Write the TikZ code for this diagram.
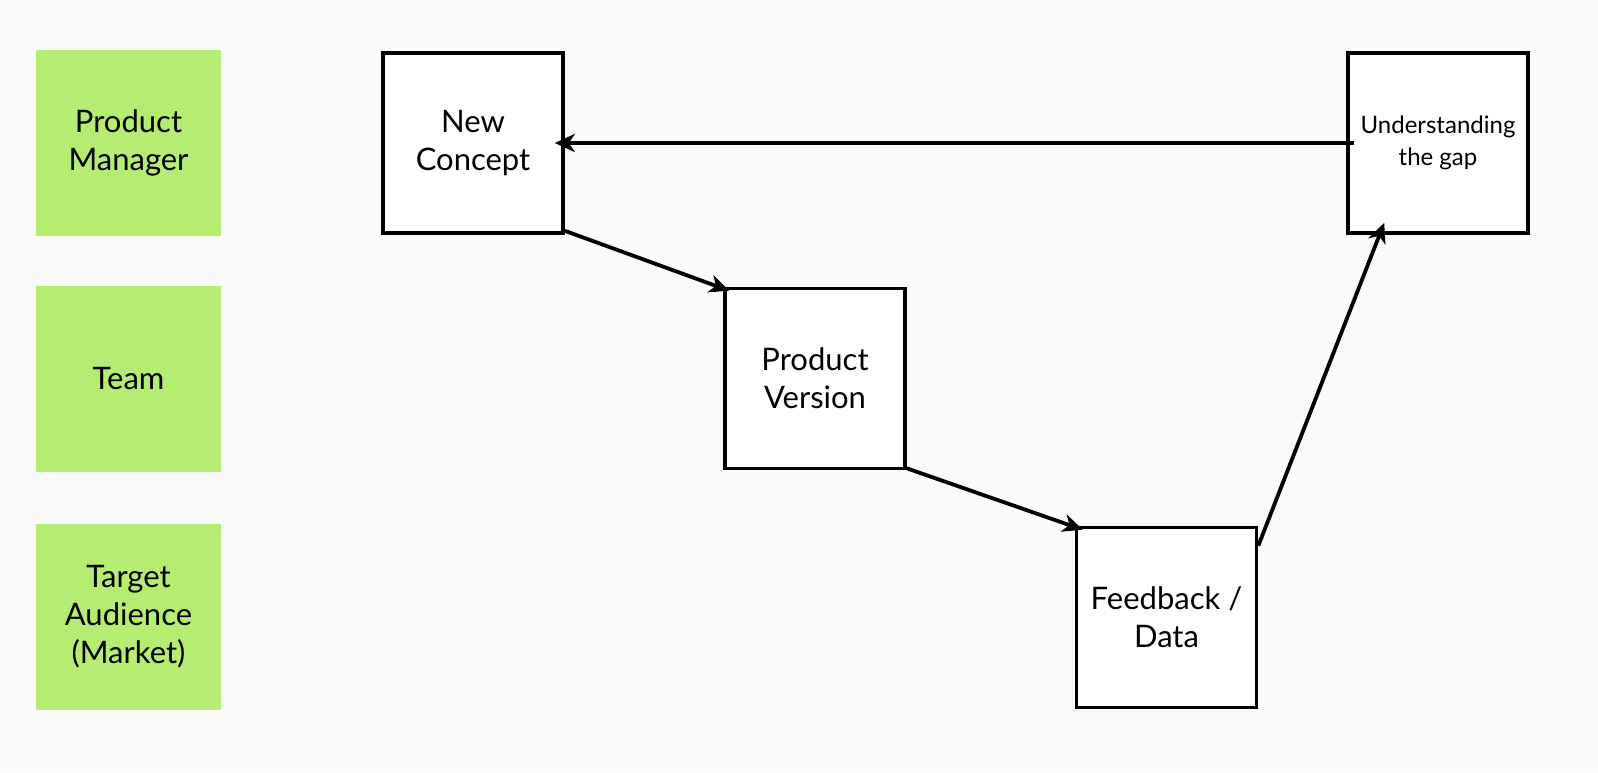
\documentclass[tikz,border=0pt]{standalone}
\usepackage{fontspec}
\setmainfont{Lato}
\usetikzlibrary{arrows.meta}
\definecolor{bggray}{HTML}{FAFAFA}
\definecolor{lanegreen}{HTML}{B5EC72}
\begin{document}
\begin{tikzpicture}[
    x=0.5pt, y=-0.5pt,
    lane/.style={fill=lanegreen,minimum width=92.5pt,minimum height=93pt,
      align=center,font=\fontsize{15.5}{19}\selectfont},
    box/.style={draw=black,line width=1.8pt,fill=white,minimum width=90pt,
      minimum height=90pt,align=center,font=\fontsize{15.5}{19}\selectfont},
    flow/.style={line width=1.9pt,-{Stealth[length=10pt,width=9pt,inset=3pt]}}]
 \fill[bggray] (0,0) rectangle (1598,772);
 \useasboundingbox (0,0) rectangle (1598,772);
 \node [lane] (pm) at (128.5,143) {Product\\Manager};
 \node [lane] (team) at (128.5,379) {Team};
 \node [lane] (market) at (128.5,617) {Target\\Audience\\(Market)};
 \node [box] (concept) at (473,143) {New\\Concept};
 \node [box] (version) at (815,378.5) {Product\\Version};
 \node [box] (feedback) at (1166.5,617.5) {Feedback /\\Data};
 \node [box,font=\fontsize{12}{16}\selectfont] (gap) at (1438,143)
   {Understanding\\the gap};
 \draw [flow] ([yshift=2pt]concept.south east) -- ([shift={(3pt,-2pt)}]version.north west);
 \draw [flow] ([yshift=1pt]version.south east) -- ([shift={(4pt,-2pt)}]feedback.north west);
 \draw [flow] ([yshift=-10pt]feedback.north east) -- ([xshift=19pt,yshift=6pt]gap.south west);
 \draw [flow] ([xshift=4pt]gap.west) -- ([xshift=-5pt]concept.east);
\end{tikzpicture}
\end{document}
